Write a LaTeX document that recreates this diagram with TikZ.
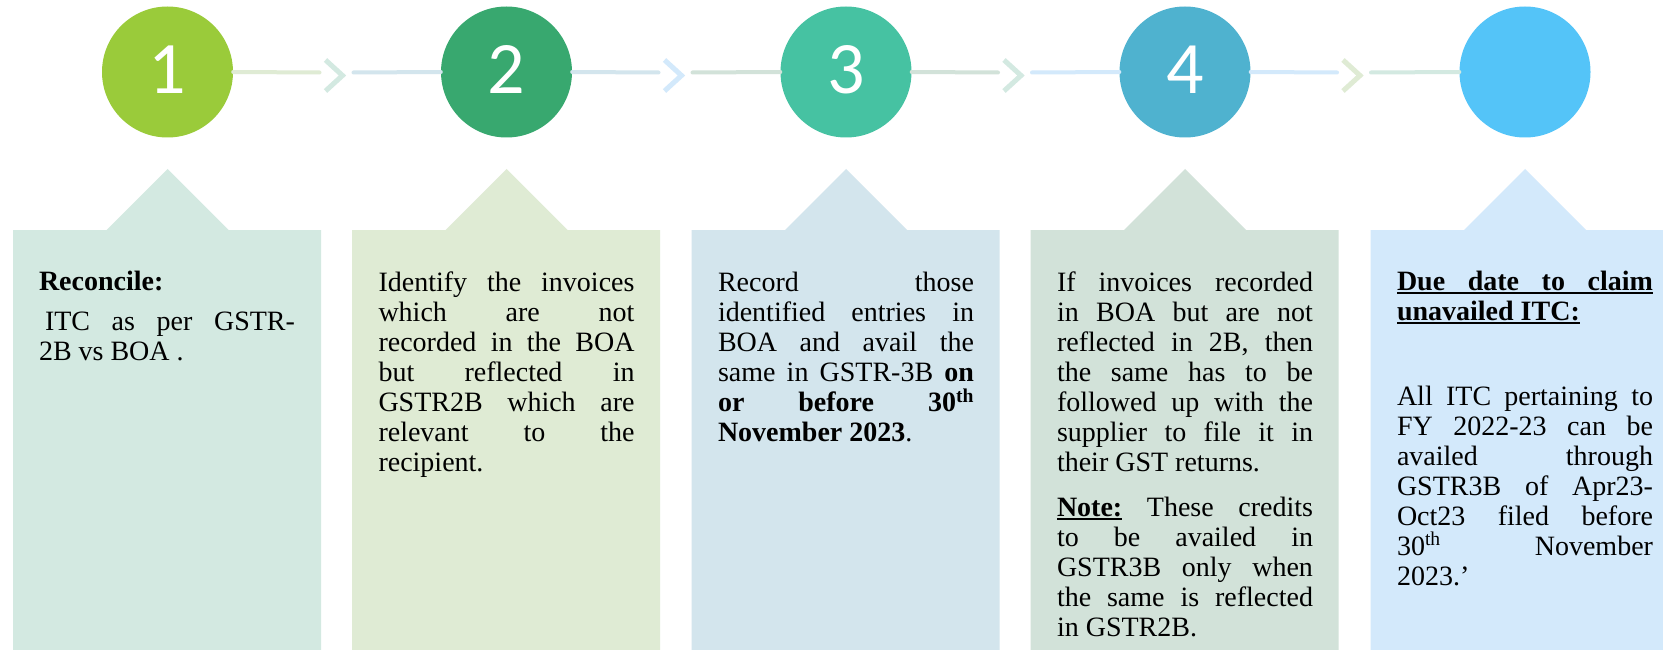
\documentclass[tikz,border=0pt]{standalone}
\usepackage{fontspec}
\setmainfont{Liberation Serif}
\newfontfamily\numfont{Carlito}
\definecolor{cA}{HTML}{9ACB3A}
\definecolor{cB}{HTML}{38A86F}
\definecolor{cC}{HTML}{46C2A2}
\definecolor{cD}{HTML}{4FB2CF}
\definecolor{cE}{HTML}{54C4F8}
\definecolor{bA}{HTML}{D3E9E1}
\definecolor{bB}{HTML}{DFEBD4}
\definecolor{bC}{HTML}{D3E5ED}
\definecolor{bD}{HTML}{D2E2D9}
\definecolor{bE}{HTML}{D3E9FB}
\newlength\tw \setlength\tw{256pt}
\newcommand\J[1]{\hbox to\tw{#1}}
\newcommand\Lf[1]{\hbox{#1}}
\newcommand\ul[1]{\setbox0=\hbox{#1}\rlap{\rule[-3.5pt]{\wd0}{1.6pt}}\box0\relax}
\newcommand\blk[1]{\vtop{\hsize=\tw\parindent=0pt\fontsize{28}{30}\selectfont\baselineskip=30pt\lineskiplimit=-1000pt\relax #1}}
\hbadness=10000
\begin{document}
\begin{tikzpicture}[x=1pt,y=-1pt,
  dot/.style={circle,minimum size=131pt,inner sep=0pt},
  num/.style={inner sep=0pt,text=white,font=\numfont\fontsize{74}{74}\selectfont},
  seg/.style={line width=4pt,line cap=round},
  chev/.style={line width=5pt,miter limit=10},
  txt/.style={anchor=base west,inner sep=0pt,outer sep=0pt}]
\useasboundingbox (0,0) rectangle (1663,650);
\fill[white] (0,0) rectangle (1663,650);
% boxes
\foreach \cx/\col in {167.5/bA,506.5/bB,846/bC,1185/bD,1525/bE}{
  \fill[\col] (\cx-154.5,230) -- (\cx-61,230) -- (\cx,169) -- (\cx+61,230) -- (\cx+153.5,230) -- (\cx+153.5,650) -- (\cx-154.5,650) -- cycle;
}
% circles
\node[dot,fill=cA] (n1) at (167.5,72) {};
\node[dot,fill=cB] (n2) at (506.5,72) {};
\node[dot,fill=cC] (n3) at (846,72) {};
\node[dot,fill=cD] (n4) at (1185,72) {};
\node[dot,fill=cE] (n5) at (1525,72) {};
\node[num] (m1) at (167.5,69.5) {1};
\node[num] (m2) at (506.5,69.5) {2};
\node[num] (m3) at (846,69.5) {3};
\node[num] (m4) at (1185,69.5) {4};
% connector coordinates
\foreach \i/\cx in {1/167.5,2/506.5,3/846,4/1185}{
  \coordinate (a\i) at (\cx+152,72.5);
  \coordinate (b\i) at (\cx+186,72.5);
  \coordinate (p\i) at (\cx+158,60);
  \coordinate (q\i) at (\cx+175,75.5);
  \coordinate (r\i) at (\cx+158,91);
}
\draw[seg,bB] (n1.east) -- (a1);
\draw[chev,bA] (p1) -- (q1) -- (r1);
\draw[seg,bC] (b1) -- (n2.west);
\draw[seg,bC] (n2.east) -- (a2);
\draw[chev,bE] (p2) -- (q2) -- (r2);
\draw[seg,bD] (b2) -- (n3.west);
\draw[seg,bD] (n3.east) -- (a3);
\draw[chev,bA] (p3) -- (q3) -- (r3);
\draw[seg,bE] (b3) -- (n4.west);
\draw[seg,bE] (n4.east) -- (a4);
\draw[chev,bB] (p4) -- (q4) -- (r4);
\draw[seg,bA] (b4) -- (n5.west);
% texts
\node[txt] (t1a) at (39,290) {\blk{\Lf{\bfseries Reconcile:}}};
\node[txt] (t1b) at (39,330) {\blk{\J{\kern6pt ITC as per GSTR-}\Lf{2B vs BOA .}}};
\node[txt] (t2) at (378.5,291.5) {\blk{%
  \J{Identify the invoices}
  \J{which are not}
  \J{recorded in the BOA}
  \J{but reflected in}
  \J{GSTR2B which are}
  \J{relevant to the}
  \Lf{recipient.}}};
\node[txt] (t3) at (718,291.5) {\blk{%
  \J{Record those}
  \J{identified entries in}
  \J{BOA and avail the}
  \J{same in GSTR-3B \textbf{on}}
  \J{\bfseries or before 30\textsuperscript{th}}
  \Lf{\textbf{November 2023}.}}};
\node[txt] (t4a) at (1057,291.5) {\blk{%
  \J{If invoices recorded}
  \J{in BOA but are not}
  \J{reflected in 2B, then}
  \J{the same has to be}
  \J{followed up with the}
  \J{supplier to file it in}
  \Lf{their GST returns.}}};
\node[txt] (t4b) at (1057,516.5) {\blk{%
  \J{\ul{\bfseries Note:} These credits}
  \J{to be availed in}
  \J{GSTR3B only when}
  \J{the same is reflected}
  \Lf{in GSTR2B.}}};
\node[txt] (t5a) at (1397,290) {\blk{%
  \Lf{\ul{\J{\bfseries Due date to claim}}}
  \Lf{\ul{\bfseries unavailed ITC:}}}};
\node[txt] (t5b) at (1397,405) {\blk{%
  \J{All ITC pertaining to}
  \J{FY 2022-23 can be}
  \J{availed through}
  \J{GSTR3B of Apr23-}
  \J{Oct23 filed before}
  \J{30\textsuperscript{th} November}
  \Lf{2023.’}}};
\end{tikzpicture}
\end{document}
